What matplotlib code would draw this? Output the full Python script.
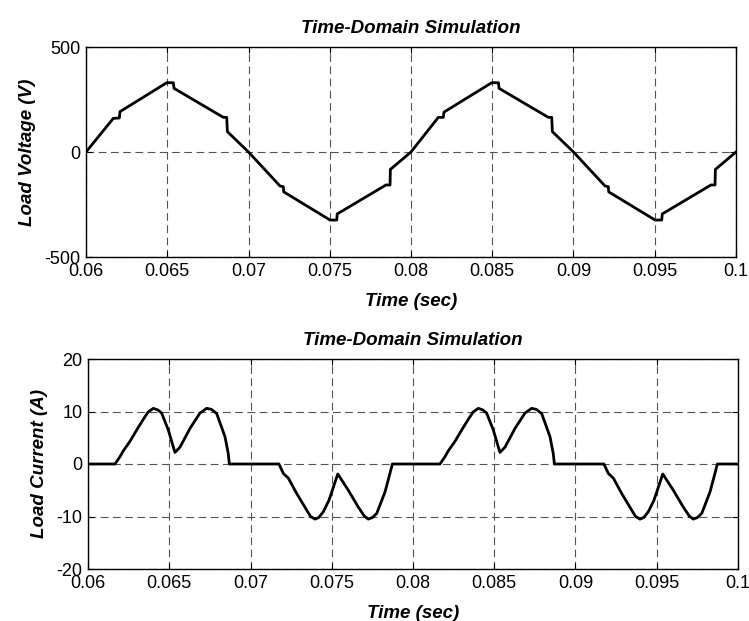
import matplotlib
matplotlib.use("Agg")
import matplotlib.pyplot as plt
from matplotlib.ticker import FixedLocator, FixedFormatter

# ---------------- data ----------------
t_voltage = [0.0600, 0.06168, 0.06205, 0.06209, 0.06497, 0.06537, 0.06542,
             0.06845, 0.06866, 0.06870, 0.07000, 0.07194, 0.07214, 0.07217,
             0.07502, 0.07543, 0.07546, 0.07846, 0.07871, 0.07873, 0.08000,
             0.08168, 0.08199, 0.08203, 0.08497, 0.08538, 0.08542, 0.08845,
             0.08866, 0.08870, 0.09000, 0.09194, 0.09214, 0.09217, 0.09502,
             0.09543, 0.09546, 0.09846, 0.09871, 0.09873, 0.10000]
load_voltage = [0, 160, 162, 192, 330, 330, 303,
                165, 165, 97, 0, -162, -165, -190,
                -324, -324, -295, -157, -157, -83, 0,
                165, 165, 190, 330, 330, 303, 165,
                165, 97, 0, -162, -165, -190, -324,
                -324, -295, -157, -157, -83, 0]

t_current = [0.0600, 0.06166, 0.06197, 0.06217, 0.06258, 0.0630, 0.0634, 0.0637,
             0.06402, 0.0643, 0.06453, 0.06494, 0.06535, 0.06566, 0.06628, 0.06689,
             0.0673, 0.0676, 0.06792, 0.06843, 0.06863, 0.0687, 0.07175, 0.07202,
             0.07233, 0.07284, 0.07346, 0.0737, 0.07397, 0.0742, 0.07448, 0.07483,
             0.07537, 0.07602, 0.07663, 0.0770, 0.07725, 0.0775, 0.07777, 0.07828,
             0.07858, 0.07873, 0.08166, 0.08197, 0.08217, 0.08258, 0.0830, 0.0834,
             0.0837, 0.08402, 0.0843, 0.08453, 0.08494, 0.08535, 0.08566, 0.08628,
             0.08689, 0.0873, 0.0876, 0.08792, 0.08843, 0.08863, 0.0887, 0.09175,
             0.09202, 0.09233, 0.09284, 0.09346, 0.0937, 0.09397, 0.0942, 0.09448,
             0.09483, 0.09537, 0.09602, 0.09663, 0.0970, 0.09725, 0.0975, 0.09777,
             0.09828, 0.09858, 0.09873, 0.1000]
load_current = [0, 0, 1.4, 2.5, 4.3, 6.5, 8.5, 9.9,
                10.6, 10.3, 9.7, 6.5, 2.2, 3.2, 6.8, 9.7,
                10.6, 10.4, 9.6, 5.2, 2.0, 0, 0, -1.8,
                -2.7, -5.6, -8.8, -10.0, -10.5, -10.2, -9.1, -6.9,
                -1.9, -5.0, -8.2, -9.9, -10.5, -10.2, -9.4, -5.3,
                -1.8, 0, 0, 1.4, 2.5, 4.3, 6.5, 8.5,
                9.9, 10.6, 10.3, 9.7, 6.5, 2.2, 3.2, 6.8,
                9.7, 10.6, 10.4, 9.6, 5.2, 2.0, 0, 0,
                -1.8, -2.7, -5.6, -8.8, -10.0, -10.5, -10.2, -9.1,
                -6.9, -1.9, -5.0, -8.2, -9.9, -10.5, -10.2, -9.4,
                -5.3, -1.8, 0, 0]

x_ticks = [0.06, 0.065, 0.07, 0.075, 0.08, 0.085, 0.09, 0.095, 0.1]
x_ticklabels = ["0.06", "0.065", "0.07", "0.075", "0.08", "0.085", "0.09", "0.095", "0.1"]
v_ticks = [-500, 0, 500]
i_ticks = [-20, -10, 0, 10, 20]

title_text = "Time-Domain Simulation"
xlabel_text = "Time (sec)"
v_label = "Load Voltage (V)"
i_label = "Load Current (A)"

# ---------------- style ----------------
plt.rcParams['font.family'] = ['Liberation Sans', 'DejaVu Sans']

fig = plt.figure(figsize=(7.49, 6.21), dpi=100)
W, H = 749, 621
ax1 = fig.add_axes([86 / W, 1 - 257 / H, 650 / W, 210 / H])
ax2 = fig.add_axes([88 / W, 1 - 569 / H, 650 / W, 210 / H])

grid_kw = dict(color='#555555', linewidth=0.8, linestyle=(0, (7, 4)))
lab_kw = dict(fontsize=13.5, fontweight='bold', fontstyle='italic')


def style(ax, yticks, ylim, ylabel):
    ax.set_xlim(0.06, 0.1)
    ax.set_ylim(*ylim)
    ax.xaxis.set_major_locator(FixedLocator(x_ticks))
    ax.xaxis.set_major_formatter(FixedFormatter(x_ticklabels))
    ax.yaxis.set_major_locator(FixedLocator(yticks))
    ax.set_yticklabels([str(v) for v in yticks])
    ax.tick_params(direction='in', length=4, width=0.8, labelsize=13, pad=4,
                   top=True, right=True)
    ax.grid(True, **grid_kw)
    ax.set_axisbelow(True)
    for s in ax.spines.values():
        s.set_linewidth(1.0)
        s.set_color('black')
    ax.set_title(title_text, pad=10, **lab_kw)
    ax.set_xlabel(xlabel_text, labelpad=10, **lab_kw)
    ax.set_ylabel(ylabel, labelpad=6, **lab_kw)


ax1.plot(t_voltage, load_voltage, color='black', linewidth=2.0, zorder=3)
style(ax1, v_ticks, (-500, 500), v_label)

ax2.plot(t_current, load_current, color='black', linewidth=2.0, zorder=3)
style(ax2, i_ticks, (-20, 20), i_label)

fig.savefig("out.png", dpi=100)
